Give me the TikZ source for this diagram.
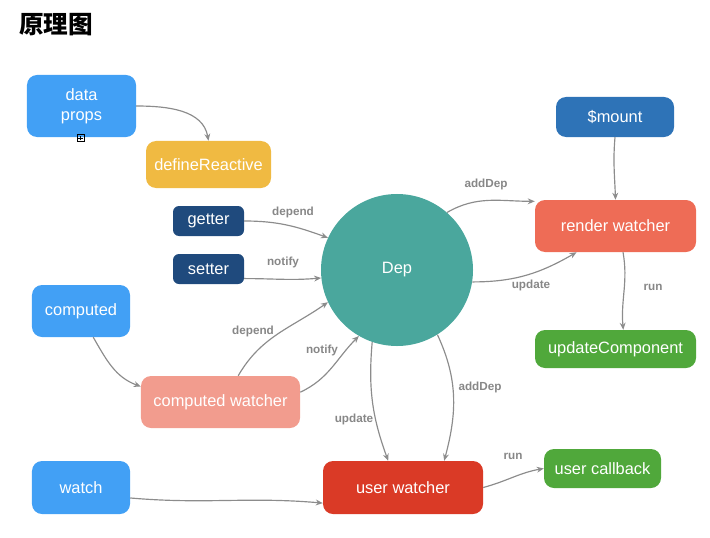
\documentclass[tikz,border=0pt]{standalone}
\usepackage{fontspec}
\setmainfont{Liberation Sans}
\newfontfamily\cjk{Noto Sans CJK SC}
\usepackage{xcolor}
\usepackage{tikz}
\usetikzlibrary{shapes,arrows.meta,positioning}

\definecolor{inputblue}{RGB}{66,160,245}
\definecolor{reactorange}{RGB}{240,186,66}
\definecolor{mountblue}{RGB}{46,115,183}
\definecolor{accessnavy}{RGB}{31,74,125}
\definecolor{depteal}{RGB}{74,167,157}
\definecolor{renderred}{RGB}{238,108,86}
\definecolor{runngreen}{RGB}{80,168,59}
\definecolor{compsalmon}{RGB}{242,156,142}
\definecolor{userred}{RGB}{218,58,38}
\definecolor{linkgray}{RGB}{140,140,140}
\definecolor{taggray}{RGB}{135,135,135}

\tikzset{
  box/.style={rounded corners=0.3cm, text=white, inner sep=0pt,
    font=\fontsize{14}{17}\selectfont},
  smallbox/.style={box, rounded corners=0.18cm, minimum width=2.13cm, minimum height=0.9cm, fill=accessnavy},
  flow/.style={draw=linkgray, line width=1pt, -{Stealth[length=6pt,width=5pt]}},
  tag/.style={text=taggray, font=\fontsize{10}{12}\selectfont\bfseries},
}

\begin{document}
\begin{tikzpicture}[x=0.03cm,y=0.03cm]
    \useasboundingbox (0,0) rectangle (710,-537);

    \node[anchor=west, font=\cjk\bfseries\fontsize{21}{24}\selectfont] (title) at (15,-25) {原理图};

    \node[box, fill=inputblue, minimum width=3.27cm, minimum height=1.86cm, align=center] (props) at (81.5,-106) {data\\props};
    \node[draw, line width=0.5pt, minimum size=0.2cm, inner sep=0pt] (fold) at (80.5,-138) {};
    \draw[line width=0.5pt] ([xshift=-2]fold.center) -- ([xshift=2]fold.center)
        ([yshift=-2]fold.center) -- ([yshift=2]fold.center);
    \node[box, fill=reactorange, minimum width=3.75cm, minimum height=1.41cm] (define) at (208.5,-164.5) {defineReactive};
    \node[box, fill=mountblue, minimum width=3.54cm, minimum height=1.2cm] (mount) at (615,-117) {\$mount};
    \node[smallbox] (getter) at (208.5,-221) {getter};
    \node[smallbox] (setter) at (208.5,-269) {setter};
    \node[circle, fill=depteal, text=white, minimum size=4.56cm, inner sep=0pt,
        font=\fontsize{14}{17}\selectfont] (dep) at (397,-270) {Dep};
    \node[box, fill=renderred, minimum width=4.83cm, minimum height=1.56cm] (render) at (615.5,-226) {render watcher};
    \node[box, fill=runngreen, minimum width=4.83cm, minimum height=1.14cm] (updcomp) at (615.5,-349) {updateComponent};
    \node[box, fill=inputblue, minimum width=2.94cm, minimum height=1.56cm] (computed) at (81,-311) {computed};
    \node[box, fill=compsalmon, minimum width=4.77cm, minimum height=1.56cm] (cwatch) at (220.5,-402) {computed watcher};
    \node[box, fill=inputblue, minimum width=2.94cm, minimum height=1.59cm] (watch) at (81,-487.5) {watch};
    \node[box, fill=userred, minimum width=4.8cm, minimum height=1.59cm] (uwatch) at (403,-487.5) {user watcher};
    \node[box, fill=runngreen, minimum width=3.51cm, minimum height=1.17cm] (ucb) at (602.5,-468.5) {user callback};

    \draw[flow] (props.east) to[out=0,in=100] (define.north);
    \draw[flow] (getter.east) to[out=0,in=160] (dep.155);
    \draw[flow] (setter.-15) to[out=0,in=185] (dep.186);
    \draw[flow] (computed.-65) to[out=-60,in=160] (cwatch.169);
    \draw[flow] (cwatch.56) to[out=60,in=215] (dep.205);
    \draw[flow] (cwatch.7) to[out=25,in=225] (dep.240);
    \draw[flow] (dep.49) to[out=30,in=180] (render.163);
    \draw[flow] (dep.-9) to[out=0,in=210] (render.214);
    \draw[flow] (mount.south) to[out=-95,in=92] (render.north);
    \draw[flow] (render.-74) to[out=-80,in=95] (updcomp.68);
    \draw[flow] (dep.251) to[out=-95,in=110] (uwatch.119.5);
    \draw[flow] (dep.-58) to[out=-65,in=75] (uwatch.33.5);
    \draw[flow] (uwatch.east) to[out=15,in=190] (ucb.west);
    \draw[flow] (watch.-12) to[out=-5,in=175] (uwatch.191);

    \node[tag] (getdep) at (293,-212) {depend};
    \node[tag] (setnotify) at (283,-262) {notify};
    \node[tag] (cwdep) at (253,-331) {depend};
    \node[tag] (cwnotify) at (322,-350) {notify};
    \node[tag] (renderadd) at (486,-184) {addDep};
    \node[tag] (renderupd) at (531,-285) {update};
    \node[tag] (renderrun) at (653,-287) {run};
    \node[tag] (userupd) at (354,-419) {update};
    \node[tag] (useradd) at (480,-387) {addDep};
    \node[tag] (userrun) at (513,-456) {run};
\end{tikzpicture}
\end{document}
